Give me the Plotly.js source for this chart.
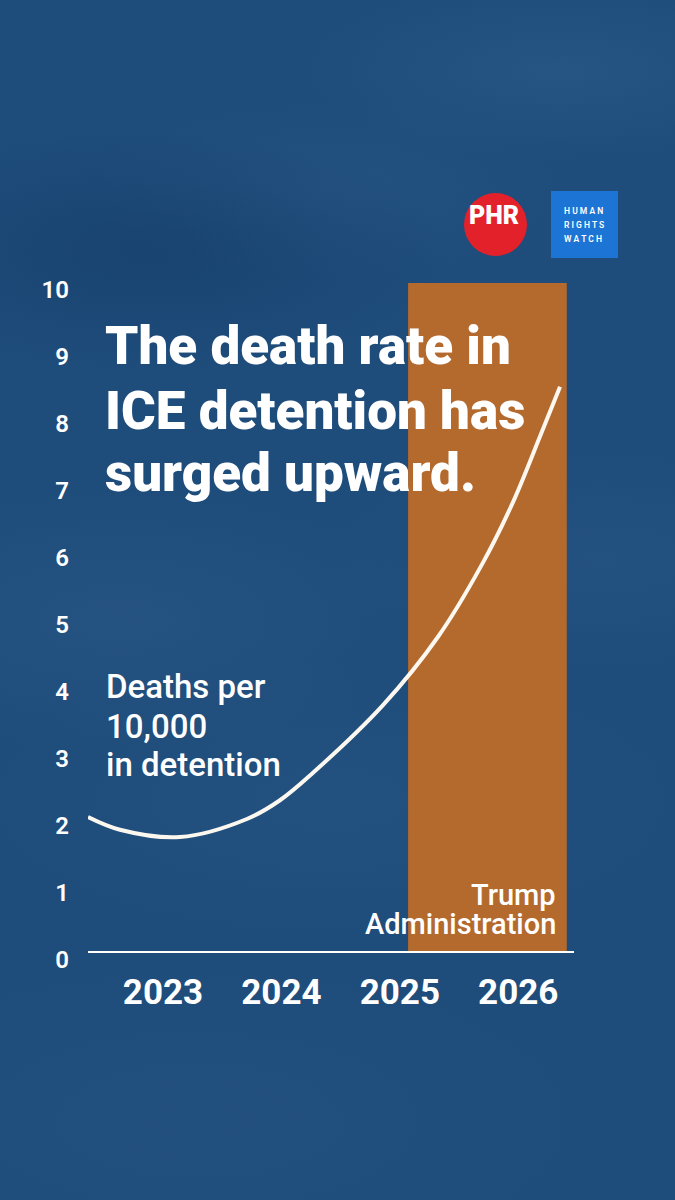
<!DOCTYPE html>
<html>
<head>
<meta charset="utf-8">
<script src="https://cdn.plot.ly/plotly-3.0.1.min.js"></script>
<style>
  html, body { margin: 0; padding: 0; }
  body {
    width: 675px; height: 1200px; overflow: hidden;
    background-color: #1e4c7b;
    background-image:
      radial-gradient(ellipse 260px 90px at 560px 70px, rgba(70,115,160,0.22), rgba(70,115,160,0) 100%),
      radial-gradient(ellipse 300px 120px at 150px 250px, rgba(18,56,98,0.45), rgba(18,56,98,0) 100%),
      radial-gradient(ellipse 240px 90px at 330px 190px, rgba(60,105,150,0.18), rgba(60,105,150,0) 100%),
      radial-gradient(ellipse 320px 130px at 120px 620px, rgba(64,108,152,0.22), rgba(64,108,152,0) 100%),
      radial-gradient(ellipse 280px 110px at 600px 560px, rgba(60,104,148,0.2), rgba(60,104,148,0) 100%),
      radial-gradient(ellipse 360px 140px at 330px 800px, rgba(55,100,145,0.2), rgba(55,100,145,0) 100%),
      radial-gradient(ellipse 400px 160px at 200px 1120px, rgba(52,96,142,0.18), rgba(52,96,142,0) 100%);
  }
  #chart { width: 675px; height: 1200px; }
</style>
</head>
<body>
<div id="chart"></div>
<script>
// Deaths per 10,000 people in ICE detention, by year
const years = [2022.367, 2022.637, 2023.144, 2023.709, 2023.988, 2024.267, 2024.858, 2025.323, 2025.694, 2025.956, 2026.193, 2026.353];
const deathRate = [2.03, 1.84, 1.73, 2.00, 2.28, 2.69, 3.70, 4.72, 5.80, 6.73, 7.75, 8.45];

// Year ticks along the bottom
const tickYears = [2023, 2024, 2025, 2026];
const tickLabels = ['2023', '2024', '2025', '2026'];

// Span of the Trump administration, shaded to the top of the scale
const adminStart = 2025.07;
const adminEnd = 2026.41;
const adminTop = 10;

const xRange = [2022.367, 2026.471];
const yRange = [0, 10];

// plot-area geometry in pixels, used to place the free-floating labels
const W = 675, H = 1200;
const M = { l: 88, r: 101, t: 283, b: 247 };
const plotW = W - M.l - M.r, plotH = H - M.t - M.b;
const fx = px => (px - M.l) / plotW;
const fy = py => (H - M.b - py) / plotH;

const white = '#ffffff';
const FONT = 'Roboto, "Open Sans", sans-serif';

function label(text, px, py, size, weight, xanchor) {
  return {
    text: text, xref: 'paper', yref: 'paper', x: fx(px), y: fy(py),
    xanchor: xanchor || 'left', yanchor: 'middle', showarrow: false,
    align: xanchor === 'right' ? 'right' : 'left',
    font: { family: FONT, size: size, color: white, weight: weight }
  };
}

const traces = [
  {
    type: 'bar',
    x: [(adminStart + adminEnd) / 2],
    width: [adminEnd - adminStart],
    y: [adminTop],
    marker: { color: '#b4692d', line: { width: 0 } },
    hoverinfo: 'skip'
  },
  {
    type: 'scatter', mode: 'lines',
    x: years, y: deathRate,
    line: { color: '#fcf8f0', width: 4, shape: 'spline', smoothing: 1 },
    cliponaxis: false,
    hoverinfo: 'skip'
  }
];

const layout = {
  width: W, height: H, autosize: false,
  margin: M,
  paper_bgcolor: 'rgba(0,0,0,0)',
  plot_bgcolor: 'rgba(0,0,0,0)',
  showlegend: false,
  xaxis: {
    range: xRange, fixedrange: true,
    tickvals: tickYears, ticktext: tickLabels,
    showgrid: false, zeroline: false, showline: false, ticks: '',
    ticklabelstandoff: 15,
    tickfont: { family: FONT, size: 35, color: white, weight: 700 }
  },
  yaxis: {
    range: yRange, fixedrange: true,
    dtick: 1, tick0: 0,
    showgrid: false, zeroline: false, showline: false, ticks: '',
    ticklabelstandoff: 18, ticklabelshift: 7,
    tickfont: { family: FONT, size: 24, color: white, weight: 600 }
  },
  shapes: [
    // baseline
    { type: 'line', xref: 'paper', yref: 'y', x0: 0, x1: 1, y0: 0, y1: 0,
      line: { color: white, width: 4 }, layer: 'above' },
    // PHR badge
    { type: 'circle', xref: 'paper', yref: 'paper',
      x0: fx(464), x1: fx(527), y0: fy(256), y1: fy(193),
      fillcolor: '#e2212b', line: { width: 0 }, layer: 'above' },
    // Human Rights Watch badge
    { type: 'rect', xref: 'paper', yref: 'paper',
      x0: fx(551), x1: fx(618), y0: fy(258), y1: fy(191),
      fillcolor: '#1c74d4', line: { width: 0 }, layer: 'above' }
  ],
  annotations: [
    label('The death rate in', 103, 346, 53, 900),
    label('ICE detention has', 103, 411, 53, 900),
    label('surged upward.', 103, 473, 53, 900),
    label('Deaths per', 104, 686, 33, 500),
    label('10,000', 104, 726, 33, 500),
    label('in detention', 104, 764, 33, 500),
    label('Trump', 558, 895, 29, 500, 'right'),
    label('Administration', 558, 924, 29, 500, 'right'),
    label('PHR', 494, 216, 25, 900, 'center'),
    label('H U M A N', 562, 211, 8.5, 600),
    label('R I G H T S', 562, 225, 8.5, 600),
    label('W A T C H', 562, 239, 8.5, 600)
  ]
};

Plotly.newPlot('chart', traces, layout, { staticPlot: true, displayModeBar: false });
</script>
</body>
</html>
